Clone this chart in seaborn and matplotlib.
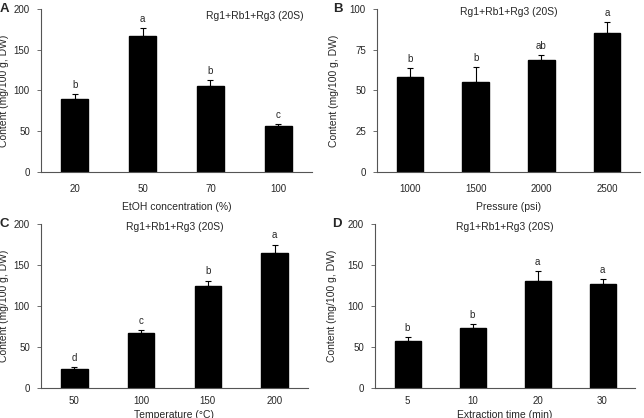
import numpy as np
import pandas as pd
import matplotlib
matplotlib.use("Agg")
import matplotlib.pyplot as plt
import seaborn as sns

# panel data: category labels, means, upper error, significance letters
etoh_cats = ['20', '50', '70', '100']
etoh_vals = [90, 167, 105, 56]
etoh_err = [6, 10, 8, 3]
etoh_sig = ['b', 'a', 'b', 'c']

pres_cats = ['1000', '1500', '2000', '2500']
pres_vals = [58.5, 55, 68.5, 85]
pres_err = [5, 9.5, 3, 7]
pres_sig = ['b', 'b', 'ab', 'a']

temp_cats = ['50', '100', '150', '200']
temp_vals = [23, 67, 125, 165]
temp_err = [2.5, 4, 6, 10]
temp_sig = ['d', 'c', 'b', 'a']

time_cats = ['5', '10', '20', '30']
time_vals = [57, 73, 131, 127]
time_err = [5, 5, 12, 6]
time_sig = ['b', 'b', 'a', 'a']

sns.set_style("white")
plt.rcParams['font.family'] = ['Liberation Sans', 'DejaVu Sans']

W, H = 644, 418
fig = plt.figure(figsize=(W / 100, H / 100), dpi=100)


def px_axes(left, top, right, bottom):
    return fig.add_axes([left / W, 1 - bottom / H, (right - left) / W, (bottom - top) / H])


def panel(ax, cats, vals, errs, sig, ymax, ystep, xlabel, title,
          ylab_px, xlab_px, xpad=5, title_right=False):
    df = pd.DataFrame({'cat': cats, 'val': vals})
    sns.barplot(data=df, x='cat', y='val', color='black', width=0.4,
                edgecolor='black', saturation=1, ax=ax)
    x = np.arange(len(cats))
    ax.errorbar(x, vals, yerr=[np.zeros(len(errs)), errs], fmt='none',
                ecolor='black', elinewidth=0.8, capsize=2.2, capthick=0.8)
    for xi, v, e, s in zip(x, vals, errs, sig):
        ax.text(xi, v + e + ymax * 0.025, s, ha='center', va='bottom', fontsize=7)
    ax.set_xlim(-0.5, len(cats) - 0.5)
    ax.set_ylim(0, ymax)
    ax.set_yticks(np.arange(0, ymax + 1, ystep))
    ax.set_xlabel(xlabel, fontsize=7.5)
    ax.set_ylabel('Content (mg/100 g, DW)', fontsize=7.5)
    bb = ax.get_position()
    wpx, hpx = bb.width * W, bb.height * H
    # label centres given in pixels away from the axes edge
    ax.yaxis.set_label_coords(-ylab_px / wpx, 0.5)
    ax.xaxis.set_label_coords(0.5, -xlab_px / hpx)
    ax.tick_params(axis='y', which='both', left=True, length=3, width=0.6,
                   color='#555555', labelsize=7, pad=5)
    ax.tick_params(axis='x', bottom=False, labelsize=7, pad=xpad)
    sns.despine(ax=ax)
    for sp in ['left', 'bottom']:
        ax.spines[sp].set_color('#555555')
        ax.spines[sp].set_linewidth(0.8)
    if title_right:
        ax.text(0.97, 0.985, title, transform=ax.transAxes, ha='right', va='top', fontsize=7.5)
    else:
        ax.text(0.5, 1.015, title, transform=ax.transAxes, ha='center', va='top', fontsize=7.5)
    return ax


title = 'Rg1+Rb1+Rg3 (20S)'

axA = px_axes(41, 9, 312, 172)
panel(axA, etoh_cats, etoh_vals, etoh_err, etoh_sig, 200, 50,
      'EtOH concentration (%)', title, 32, 30, title_right=True)
axB = px_axes(377, 9, 640, 172)
panel(axB, pres_cats, pres_vals, pres_err, pres_sig, 100, 25,
      'Pressure (psi)', title, 38, 30)
axC = px_axes(41, 224, 308, 388)
panel(axC, temp_cats, temp_vals, temp_err, temp_sig, 200, 50,
      'Temperature (\u00b0C)', title, 32, 21.5, xpad=2.5)
axD = px_axes(375, 224, 635, 388)
panel(axD, time_cats, time_vals, time_err, time_sig, 200, 50,
      'Extraction time (min)', title, 38, 21.5, xpad=2.5)

for lab, (px, py) in zip('ABCD', [(0, 9), (333, 9), (0, 224), (332, 224)]):
    fig.text(px / W, 1 - py / H, lab, fontsize=9.5, fontweight='bold',
             ha='left', va='center')

fig.savefig('out.png', dpi=100, facecolor='white')
